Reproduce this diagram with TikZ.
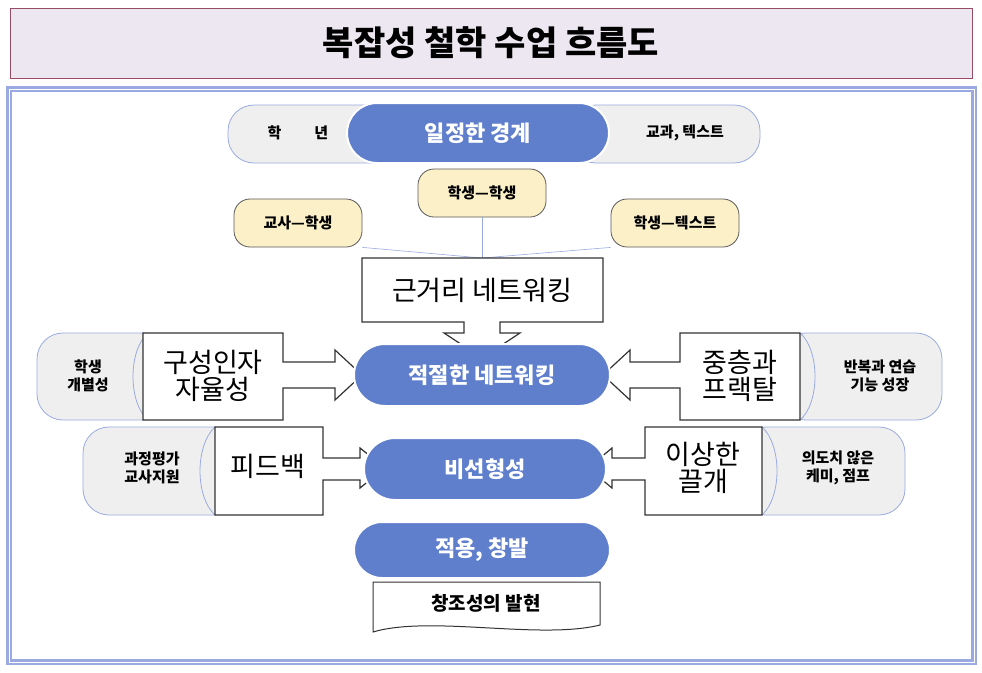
\documentclass[tikz,border=0pt]{standalone}
\usepackage{fontspec}
\setmainfont{Noto Sans CJK KR}
\usetikzlibrary{shapes.misc}
\definecolor{pblue}{HTML}{5F7FCC}
\definecolor{lgray}{HTML}{EFEFEF}
\definecolor{edgeb}{HTML}{9AAAE0}
\definecolor{ylw}{HTML}{FBF0C8}
\definecolor{ttl}{HTML}{EDE7F2}
\begin{document}
\begin{tikzpicture}[x=1pt,y=-1pt,
  bluepill/.style={rounded rectangle,fill=pblue,draw=white,line width=2pt,text=white,font=\fontsize{22}{24}\selectfont\bfseries,inner sep=0pt},
  graypill/.style={rounded corners=26pt,fill=lgray,draw=edgeb,line width=0.8pt},
  yel/.style={rounded corners=16pt,fill=ylw,draw=gray!70!black,line width=0.8pt,font=\fontsize{15}{17}\selectfont\bfseries,minimum width=128pt,minimum height=48pt},
  callout/.style={fill=white,draw=gray!40!black,line width=1.2pt},
  side/.style={font=\fontsize{15}{18}\selectfont\bfseries,align=center},
  boxtxt/.style={font=\fontsize{27}{31}\selectfont,align=center},
  link/.style={draw=edgeb,line width=0.6pt}]
\useasboundingbox (0,0) rectangle (982,672);
% title
\draw[fill=ttl,draw=gray!60!purple,line width=1pt] (10,8) rectangle (972,78);
\node (title) at (491,43) {\fontsize{34}{38}\selectfont\bfseries 복잡성 철학 수업 흐름도};
% frame
\draw[edgeb,line width=2.5pt,double=white,double distance=1pt] (9,89) rectangle (974,662);
% top row
\draw[graypill] (228,105) rectangle (420,163);
\draw[graypill] (570,105) rectangle (760,163);
\node[bluepill,minimum width=262pt,minimum height=60pt] (b1) at (478,133) {일정한 경계};
\node[side] (s1) at (298,133) {학\hspace{2.2em}년};
\node[side] (s2) at (685,133) {교과, 텍스트};
% yellow
\node[yel] (y1) at (482,193) {학생—학생};
\node[yel] (y2) at (298,223) {교사—학생};
\node[yel] (y3) at (675,223) {학생—텍스트};
\coordinate (jn) at (482,258);
\draw[link] (y1.south) -- (jn);
\draw[link] (y2.south east) -- (jn);
\draw[link] (y3.south west) -- (jn);
% 근거리 callout
\draw[callout] (362,258) -- (603,258) -- (603,322) -- (500,322) -- (500,333) -- (520,333) -- (482,358) -- (444,333) -- (464,333) -- (464,322) -- (362,322) -- cycle;
\node[boxtxt] (k1) at (482,290) {근거리 네트워킹};
% row 2 side pills
\draw[graypill] (37,333) rectangle (170,420);
\draw[graypill] (780,333) rectangle (942,420);
\draw[edgeb,line width=0.8pt] (148,333) .. controls (128,350) and (128,403) .. (148,420);
\draw[edgeb,line width=0.8pt] (800,333) .. controls (820,350) and (820,403) .. (800,420);
% callouts row2
\draw[callout] (143,333) -- (283,333) -- (283,362) -- (335,362) -- (335,350) -- (362,375) -- (335,400) -- (335,388) -- (283,388) -- (283,420) -- (143,420) -- cycle;
\draw[callout] (800,333) -- (680,333) -- (680,362) -- (630,362) -- (630,350) -- (603,375) -- (630,400) -- (630,388) -- (680,388) -- (680,420) -- (800,420) -- cycle;
\node[bluepill,minimum width=256pt,minimum height=62pt] (b2) at (482,375) {적절한 네트워킹};
\node[boxtxt] (c1) at (213,376) {구성인자\\[-4pt]자율성};
\node[boxtxt] (c2) at (740,376) {중층과\\[-4pt]프랙탈};
\node[side] (s3) at (88,376) {학생\\개별성};
\node[side] (s4) at (880,376) {반복과 연습\\기능 성장};
% row 3
\draw[graypill] (83,427) rectangle (240,515);
\draw[graypill] (740,427) rectangle (905,515);
\draw[edgeb,line width=0.8pt] (215,427) .. controls (195,445) and (195,497) .. (215,515);
\draw[edgeb,line width=0.8pt] (762,427) .. controls (782,445) and (782,497) .. (762,515);
\draw[callout] (215,427) -- (323,427) -- (323,458) -- (360,458) -- (360,448) -- (385,468) -- (360,488) -- (360,480) -- (323,480) -- (323,515) -- (215,515) -- cycle;
\draw[callout] (762,427) -- (645,427) -- (645,458) -- (612,458) -- (612,448) -- (588,468) -- (612,488) -- (612,480) -- (645,480) -- (645,515) -- (762,515) -- cycle;
\node[bluepill,minimum width=242pt,minimum height=62pt] (b3) at (485,469) {비선형성};
\node[boxtxt] (c3) at (268,466) {피드백};
\node[boxtxt] (c4) at (703,468) {이상한\\[-4pt]끌개};
\node[side] (s5) at (152,468) {과정평가\\교사지원};
\node[side] (s6) at (838,468) {의도치 않은\\케미, 점프};
% row 4
\node[bluepill,minimum width=256pt,minimum height=56pt] (b4) at (482,550) {적용, 창발};
\draw[callout,line width=1pt] (373,582) -- (600,582) -- (600,625) .. controls (540,640) and (430,615) .. (373,632) -- cycle;
\node[font=\fontsize{19}{22}\selectfont\bfseries] (c5) at (486,603) {창조성의 발현};
\end{tikzpicture}
\end{document}
